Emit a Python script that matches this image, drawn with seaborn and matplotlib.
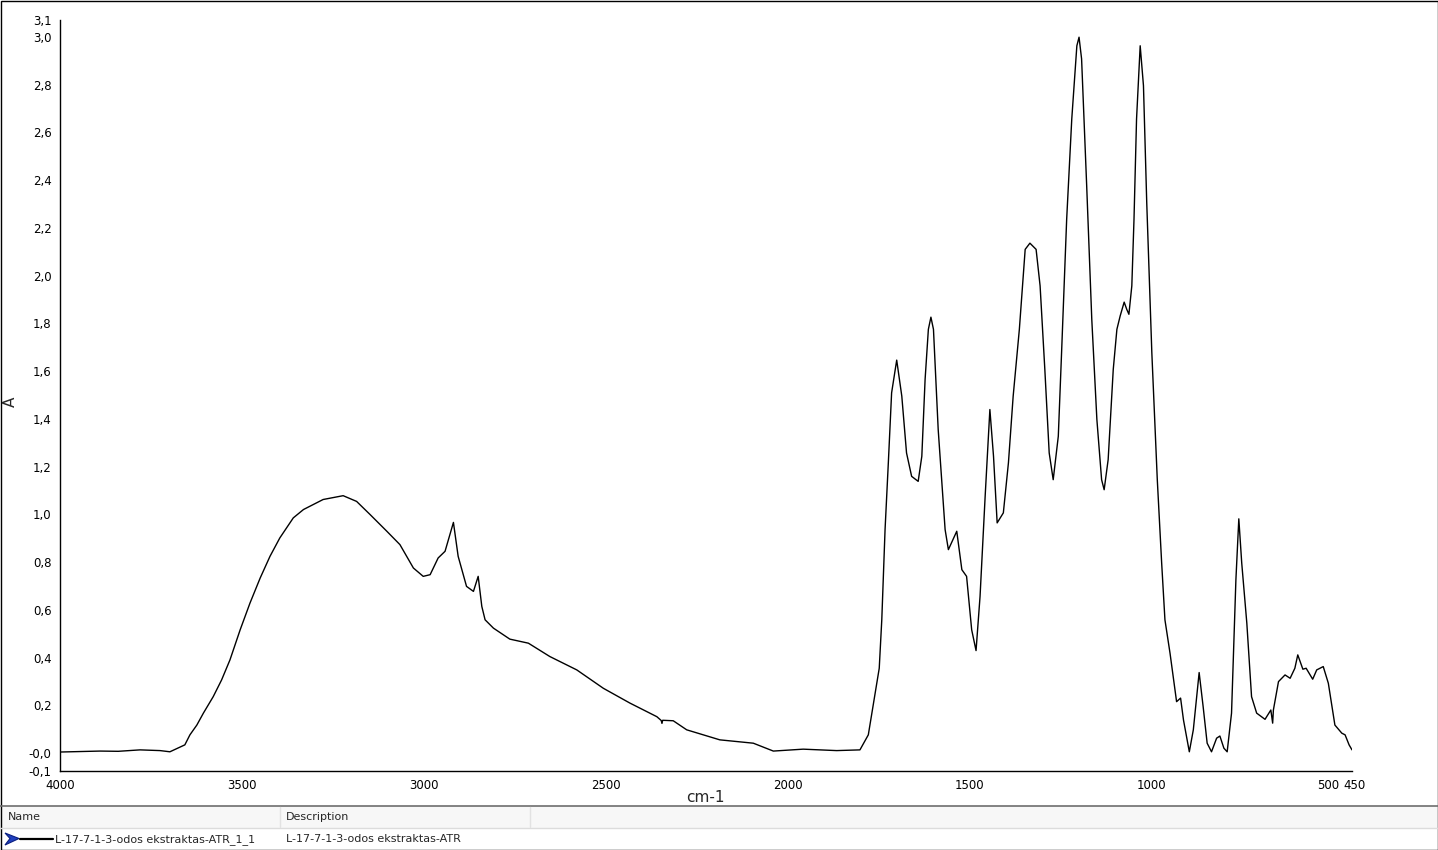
import numpy as np
import pandas as pd
import matplotlib
matplotlib.use("Agg")
import matplotlib.pyplot as plt
from matplotlib.patches import Rectangle, Polygon
from matplotlib.lines import Line2D
from matplotlib.transforms import ScaledTranslation
import seaborn as sns

# ---- data ----
wavenumber = [4000, 3950, 3890, 3840, 3780, 3725, 3698, 3657, 3643, 3624, 3606, 3579, 3556, 3533,
              3505, 3478, 3450, 3423, 3396, 3359, 3331, 3277, 3222, 3185, 3148, 3102,
              3066, 3029, 3002, 2983, 2961, 2942, 2919, 2906, 2883, 2864, 2851, 2841,
              2832, 2809, 2764, 2713, 2654, 2580, 2507, 2434, 2360, 2348, 2346, 2344,
              2315, 2278, 2187, 2095, 2040, 1958, 1866, 1802, 1779, 1749, 1742, 1733,
              1724, 1715, 1701, 1687, 1674, 1660, 1642, 1632, 1623, 1614, 1607, 1600,
              1587, 1568, 1559, 1536, 1522, 1509, 1495, 1483, 1472, 1458, 1445, 1435,
              1425, 1408, 1394, 1381, 1364, 1348, 1335, 1318, 1307, 1294, 1282, 1271,
              1257, 1248, 1234, 1220, 1206, 1200, 1193, 1179, 1165, 1151, 1138, 1131,
              1120, 1106, 1096, 1087, 1076, 1069, 1063, 1055, 1049, 1042, 1032, 1023,
              1014, 1000, 985, 973, 964, 950, 932, 921, 913, 897, 886, 870, 859, 848,
              836, 822, 813, 802, 793, 781, 769, 761, 753, 739, 726, 712, 689, 673,
              668, 666, 652, 634, 620, 607, 599, 585, 576, 558, 547, 529, 515, 497,
              478, 469, 458, 450]
absorbance = [0.004, 0.006, 0.008, 0.007, 0.013, 0.010, 0.005, 0.034, 0.076, 0.117, 0.167, 0.236, 0.306, 0.390,
              0.516, 0.628, 0.733, 0.824, 0.901, 0.985, 1.020, 1.062, 1.078, 1.054, 0.999, 0.929,
              0.873, 0.775, 0.740, 0.747, 0.817, 0.845, 0.966, 0.824, 0.698, 0.677, 0.740, 0.614,
              0.558, 0.523, 0.477, 0.460, 0.404, 0.348, 0.271, 0.209, 0.152, 0.136, 0.124, 0.137,
              0.135, 0.097, 0.055, 0.041, 0.008, 0.016, 0.010, 0.013, 0.076, 0.355, 0.558, 0.936,
              1.216, 1.509, 1.646, 1.495, 1.257, 1.159, 1.138, 1.243, 1.565, 1.775, 1.826, 1.775,
              1.355, 0.936, 0.852, 0.929, 0.768, 0.740, 0.516, 0.429, 0.656, 1.075, 1.439, 1.243,
              0.964, 1.006, 1.216, 1.495, 1.775, 2.110, 2.136, 2.110, 1.957, 1.607, 1.257, 1.145,
              1.327, 1.677, 2.236, 2.656, 2.963, 2.999, 2.908, 2.376, 1.817, 1.397, 1.145, 1.103,
              1.229, 1.607, 1.775, 1.831, 1.889, 1.859, 1.838, 1.957, 2.236, 2.656, 2.963, 2.796,
              2.306, 1.677, 1.145, 0.796, 0.558, 0.418, 0.215, 0.230, 0.138, 0.005, 0.097, 0.337,
              0.194, 0.041, 0.005, 0.062, 0.071, 0.020, 0.005, 0.167, 0.726, 0.981, 0.796, 0.544,
              0.236, 0.167, 0.141, 0.180, 0.125, 0.180, 0.299, 0.327, 0.313, 0.355, 0.411, 0.351,
              0.355, 0.309, 0.348, 0.362, 0.292, 0.117, 0.083, 0.076, 0.034, 0.013]

x_ticks = [4000, 3500, 3000, 2500, 2000, 1500, 1000, 500, 450]
x_labels = ["4000", "3500", "3000", "2500", "2000", "1500", "1000", "500", "450"]
y_min, y_max = -0.0755, 3.071
y_ticks = [y_min, 0.0, 0.2, 0.4, 0.6, 0.8, 1.0, 1.2, 1.4, 1.6, 1.8, 2.0, 2.2, 2.4,
           2.6, 2.8, 3.0, y_max]
y_labels = ["-0,1", "-0,0", "0,2", "0,4", "0,6", "0,8", "1,0", "1,2", "1,4", "1,6",
            "1,8", "2,0", "2,2", "2,4", "2,6", "2,8", "3,0", "3,1"]
series_name = "L-17-7-1-3-odos ekstraktas-ATR_1_1"
series_desc = "L-17-7-1-3-odos ekstraktas-ATR"

df = pd.DataFrame({"wn": wavenumber, "A": absorbance})

sns.set_style("white")
plt.rcParams["font.family"] = ["DejaVu Sans"]

W, H = 1438, 850
fig = plt.figure(figsize=(W / 100, H / 100), dpi=100)

def fx(px):
    return px / W

def fy(py):
    return 1 - py / H

ax = fig.add_axes([fx(60), fy(771), fx(1352) - fx(60), fy(20) - fy(771)])
sns.lineplot(data=df, x="wn", y="A", sort=False, estimator=None, color="black",
             linewidth=1.0, ax=ax)
ax.set_xlim(4000, 450)
ax.set_ylim(y_min, y_max)
ax.set_xticks(x_ticks)
ax.set_xticklabels(x_labels)
ax.set_yticks(y_ticks)
ax.set_yticklabels(y_labels)
ax.tick_params(axis="both", direction="out", length=4, width=1, colors="black",
               labelsize=8.5, pad=2)
for s in ["top", "right"]:
    ax.spines[s].set_visible(False)
for s in ["left", "bottom"]:
    ax.spines[s].set_color("black")
    ax.spines[s].set_linewidth(1.0)
ax.set_xlabel("")
ax.set_ylabel("")
ax.set_facecolor("white")

# nudge the two crowded end labels apart, as in the reference
xt = ax.get_xticklabels()
xt[-2].set_transform(xt[-2].get_transform() + ScaledTranslation(-6 / 100, 0, fig.dpi_scale_trans))
xt[-1].set_transform(xt[-1].get_transform() + ScaledTranslation(3 / 100, 0, fig.dpi_scale_trans))

fig.text(fx(10), fy(402), "A", rotation=90, ha="center", va="center", fontsize=11)
fig.text(fx(705), fy(797), "cm-1", ha="center", va="center", fontsize=11)

# ---- bottom table ----
fig.add_artist(Rectangle((fx(0), fy(828)), fx(1438), fy(806) - fy(828),
                         transform=fig.transFigure, facecolor="#f7f7f7",
                         edgecolor="none"))
fig.add_artist(Line2D([fx(0), fx(1438)], [fy(806), fy(806)], transform=fig.transFigure,
                      color="#6e6e6e", linewidth=1.2))
fig.add_artist(Line2D([fx(0), fx(1438)], [fy(828), fy(828)], transform=fig.transFigure,
                      color="#dcdcdc", linewidth=1.0))
for cx in [280, 530]:
    fig.add_artist(Line2D([fx(cx), fx(cx)], [fy(807), fy(827)], transform=fig.transFigure,
                          color="#e2e2e2", linewidth=1.0))
fig.text(fx(8), fy(817.5), "Name", ha="left", va="center", fontsize=8)
fig.text(fx(286), fy(817.5), "Description", ha="left", va="center", fontsize=8)
fig.add_artist(Polygon([[fx(5), fy(833)], [fx(19), fy(838.5)], [fx(5), fy(845)],
                        [fx(10), fy(838.5)]], closed=True, transform=fig.transFigure,
                       facecolor="#1f3fbf", edgecolor="#0b1f80", linewidth=0.8))
fig.add_artist(Line2D([fx(20), fx(53)], [fy(839), fy(839)], transform=fig.transFigure,
                      color="black", linewidth=1.6))
fig.text(fx(55), fy(839.5), series_name, ha="left", va="center", fontsize=8)
fig.text(fx(286), fy(839.5), series_desc, ha="left", va="center", fontsize=8)

# outer frame
fig.add_artist(Rectangle((fx(0.5), fy(849.5)), fx(1437), fy(0.5) - fy(849.5),
                         transform=fig.transFigure, facecolor="none",
                         edgecolor="black", linewidth=1.0))

fig.savefig("out.png", dpi=100, facecolor="white")
